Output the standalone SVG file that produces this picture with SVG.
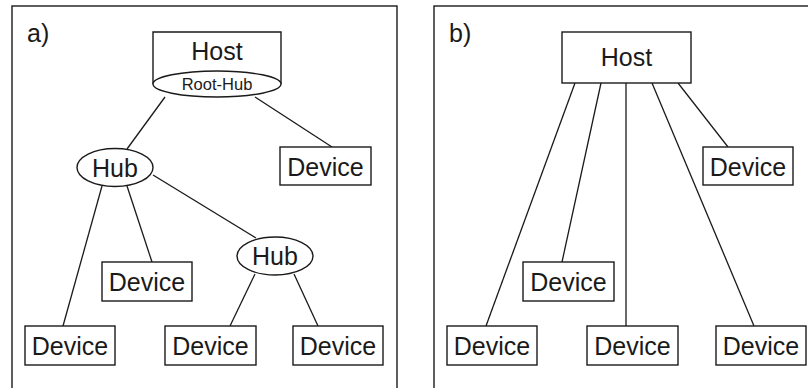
<svg xmlns="http://www.w3.org/2000/svg" width="808" height="388" viewBox="0 0 808 388">
  <style>
    .frame { fill: none; stroke: #1a1a1a; stroke-width: 1.4; }
    .box { fill: #fff; stroke: #1a1a1a; stroke-width: 1.4; }
    .link { stroke: #1a1a1a; stroke-width: 1.3; fill: none; }
    text { font-family: "Liberation Sans", Arial, sans-serif; fill: #1a1a1a; text-anchor: middle; }
    .big { font-size: 25px; }
    .small { font-size: 16.5px; }
    .tag { font-size: 25px; text-anchor: start; }
  </style>

  <!-- panel frames -->
  <rect class="frame" x="12" y="6" width="385" height="390"/>
  <rect class="frame" x="434" y="6" width="385" height="390"/>
  <text class="tag" x="27" y="42">a)</text>
  <text class="tag" x="449" y="42">b)</text>

  <!-- connectors -->
  <g id="connectors">
    <!-- tree topology -->
    <line class="link" x1="165" y1="97" x2="127" y2="149"/>
    <line class="link" x1="255" y1="97" x2="332" y2="147"/>
    <line class="link" x1="102" y1="186" x2="63" y2="326"/>
    <line class="link" x1="127" y1="186" x2="152" y2="262"/>
    <line class="link" x1="153" y1="175" x2="256" y2="238"/>
    <line class="link" x1="255" y1="274" x2="230" y2="326"/>
    <line class="link" x1="294" y1="274" x2="318" y2="326"/>
    <!-- star topology -->
    <line class="link" x1="575" y1="83" x2="486" y2="326"/>
    <line class="link" x1="601" y1="83" x2="562" y2="262"/>
    <line class="link" x1="626" y1="83" x2="626" y2="326"/>
    <line class="link" x1="652" y1="83" x2="754" y2="326"/>
    <line class="link" x1="678" y1="83" x2="728" y2="147"/>
  </g>

  <!-- tree topology nodes -->
  <g id="a-host">
    <path class="box" d="M153,84 L153,32 L281,32 L281,84"/>
    <text class="big" x="217" y="60">Host</text>
    <ellipse class="box" cx="217" cy="84" rx="64" ry="13"/>
    <text class="small" x="217" y="90">Root-Hub</text>
  </g>
  <g id="a-hub1">
    <ellipse class="box" cx="115" cy="167.5" rx="38" ry="19"/>
    <text class="big" x="115" y="177">Hub</text>
  </g>
  <g id="a-hub2">
    <ellipse class="box" cx="275" cy="256" rx="38" ry="19"/>
    <text class="big" x="275" y="265">Hub</text>
  </g>
  <g id="a-dev1">
    <rect class="box" x="280" y="147" width="91" height="38"/>
    <text class="big" x="325.5" y="176">Device</text>
  </g>
  <g id="a-dev2">
    <rect class="box" x="102" y="262" width="90" height="39"/>
    <text class="big" x="147" y="291">Device</text>
  </g>
  <g id="a-dev3">
    <rect class="box" x="25" y="326" width="90" height="39"/>
    <text class="big" x="70" y="355">Device</text>
  </g>
  <g id="a-dev4">
    <rect class="box" x="165" y="326" width="91" height="39"/>
    <text class="big" x="210.5" y="355">Device</text>
  </g>
  <g id="a-dev5">
    <rect class="box" x="293" y="326" width="90" height="39"/>
    <text class="big" x="338" y="355">Device</text>
  </g>

  <!-- star topology nodes -->
  <g id="b-host">
    <rect class="box" x="562" y="32" width="129" height="51"/>
    <text class="big" x="626.5" y="66">Host</text>
  </g>
  <g id="b-dev1">
    <rect class="box" x="703" y="147" width="90" height="38"/>
    <text class="big" x="748" y="176">Device</text>
  </g>
  <g id="b-dev2">
    <rect class="box" x="523" y="262" width="91" height="39"/>
    <text class="big" x="568.5" y="291">Device</text>
  </g>
  <g id="b-dev3">
    <rect class="box" x="447" y="326" width="90" height="39"/>
    <text class="big" x="492" y="355">Device</text>
  </g>
  <g id="b-dev4">
    <rect class="box" x="587" y="326" width="91" height="39"/>
    <text class="big" x="632.5" y="355">Device</text>
  </g>
  <g id="b-dev5">
    <rect class="box" x="716" y="326" width="90" height="39"/>
    <text class="big" x="761" y="355">Device</text>
  </g>
</svg>
